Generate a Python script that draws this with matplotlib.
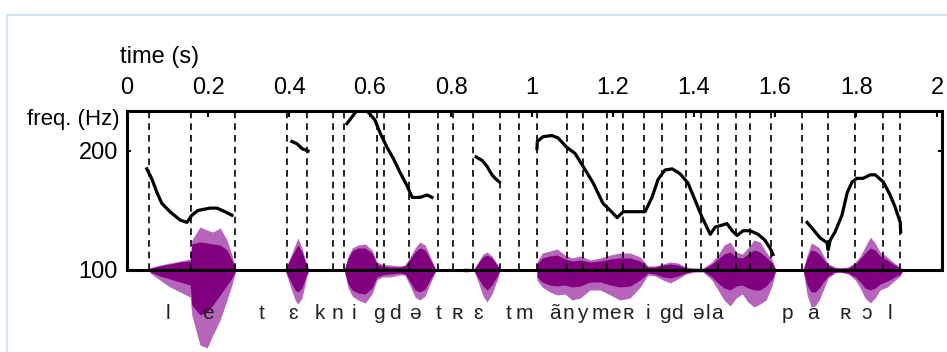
import matplotlib
matplotlib.use('Agg')
from matplotlib import pyplot as plt
from matplotlib.patches import Rectangle

plt.rcParams['font.family'] = ['Liberation Sans', 'DejaVu Sans']

# segment boundaries (s)
boundaries = [0.054, 0.158, 0.267, 0.395, 0.444, 0.509, 0.536, 0.617, 0.635, 0.696,
              0.768, 0.805, 0.854, 0.921, 0.968, 1.012, 1.086, 1.126, 1.185, 1.225,
              1.277, 1.321, 1.380, 1.417, 1.459, 1.504, 1.538, 1.590, 1.667, 1.731,
              1.798, 1.867, 1.909]

# phonetic labels and their times (s)
phones = ['l', 'e', 't', 'ɛ', 'k', 'n', 'i', 'g', 'd', 'ə', 't', 'ʀ', 'ɛ', 't', 'm',
          'ã', 'n', 'y', 'm', 'e', 'ʀ', 'i', 'g', 'd', 'ə', 'l', 'a', 'p', 'a', 'ʀ', 'ɔ', 'l']
phone_t = [0.101, 0.200, 0.333, 0.410, 0.477, 0.519, 0.560, 0.622, 0.662, 0.711, 0.768,
           0.815, 0.867, 0.943, 0.980, 1.057, 1.089, 1.123, 1.168, 1.205, 1.237, 1.286,
           1.328, 1.358, 1.410, 1.435, 1.457, 1.630, 1.694, 1.773, 1.827, 1.884]

# pitch contour (time s, f0 Hz), one list per voiced stretch
pitch_t = [
    [0.049, 0.062, 0.074, 0.086, 0.106, 0.131, 0.148, 0.160, 0.175, 0.205, 0.222, 0.242, 0.259],
    [0.407, 0.420, 0.432, 0.447],
    [0.543, 0.563, 0.573, 0.585, 0.600, 0.612, 0.625, 0.642, 0.657, 0.674, 0.691, 0.704,
     0.723, 0.741, 0.753],
    [0.862, 0.877, 0.889, 0.901, 0.909, 0.919],
    [1.012, 1.013, 1.027, 1.049, 1.064, 1.086, 1.106, 1.126, 1.151, 1.175, 1.193, 1.210,
     1.225, 1.279, 1.296, 1.311, 1.328, 1.346, 1.365, 1.385, 1.402, 1.420, 1.440, 1.452,
     1.472, 1.481, 1.494, 1.506, 1.521, 1.538, 1.558, 1.575, 1.588, 1.595],
    [1.679, 1.694, 1.711, 1.728, 1.731, 1.736, 1.748, 1.765, 1.778, 1.790, 1.802, 1.817,
     1.835, 1.847, 1.867, 1.884, 1.896, 1.909, 1.910],
]
pitch_f = [
    [185, 176, 165, 156, 149, 142, 140, 146, 150, 152, 152, 149, 146],
    [208, 206, 202, 200],
    [223, 232, 236, 236, 231, 226, 215, 203, 194, 182, 171, 161, 161, 163, 161],
    [195, 192, 187, 180, 177, 174],
    [202, 208, 212, 213, 211, 203, 198, 187, 173, 156, 150, 144, 149, 149, 161, 176, 184,
     185, 181, 173, 159, 144, 130, 136, 138, 139, 133, 129, 133, 133, 130, 125, 118, 113],
    [140, 134, 127, 123, 117, 125, 132, 146, 165, 174, 177, 177, 180, 180, 174, 163, 153,
     140, 132],
]

# waveform envelope per burst: times, outer/core amplitude above and below zero
wave_t = [
    [0.057, 0.081, 0.106, 0.131, 0.156, 0.160, 0.180, 0.198, 0.212, 0.230, 0.247, 0.259, 0.269],
    [0.390, 0.402, 0.415, 0.422, 0.432, 0.442, 0.449],
    [0.538, 0.546, 0.556, 0.570, 0.588, 0.605, 0.617, 0.630, 0.649, 0.674, 0.686, 0.699,
     0.711, 0.723, 0.736, 0.748, 0.763],
    [0.817, 0.837, 0.857, 0.867, 0.879, 0.889, 0.901, 0.914, 0.921],
    [1.012, 1.025, 1.044, 1.062, 1.081, 1.099, 1.119, 1.143, 1.168, 1.193, 1.217, 1.242,
     1.267, 1.286, 1.304, 1.323, 1.341, 1.360, 1.380, 1.402, 1.422, 1.444, 1.459, 1.474,
     1.489, 1.504, 1.519, 1.533, 1.548, 1.563, 1.578, 1.593, 1.602],
    [1.669, 1.679, 1.689, 1.699, 1.709, 1.719, 1.731, 1.748, 1.760, 1.780, 1.798, 1.810,
     1.822, 1.835, 1.847, 1.859, 1.877, 1.891, 1.909, 1.916],
]
wave_top = [
    [2, 5, 7, 9, 11, 30, 43, 40, 38, 42, 30, 15, 0],
    [0, 12, 25, 32, 22, 8, 0],
    [3, 14, 22, 25, 26, 20, 8, 6, 5, 4, 5, 13, 22, 28, 25, 14, 0],
    [1, 2, 1, 8, 16, 18, 14, 6, 0],
    [8, 17, 19, 21, 15, 12, 14, 10, 12, 15, 17, 17, 13, 4, 4, 6, 8, 7, 3, 2, 2,
     8, 15, 25, 28, 18, 16, 22, 30, 28, 18, 10, 0],
    [0, 15, 27, 25, 22, 15, 6, 3, 2, 3, 8, 14, 23, 33, 27, 18, 13, 8, 3, 0],
]
core_top = [
    [2, 4, 6, 8, 9, 26, 28, 27, 26, 25, 20, 10, 0],
    [0, 10, 20, 25, 18, 6, 0],
    [2, 12, 19, 22, 22, 17, 6, 4, 3, 3, 4, 11, 18, 22, 20, 11, 0],
    [1, 1, 1, 7, 13, 15, 12, 5, 0],
    [6, 12, 14, 15, 11, 9, 10, 8, 9, 11, 12, 12, 9, 3, 3, 5, 6, 5, 2, 1, 1,
     6, 11, 16, 18, 13, 12, 16, 20, 18, 13, 7, 0],
    [0, 12, 20, 19, 16, 11, 5, 2, 2, 2, 6, 11, 17, 22, 20, 14, 10, 6, 2, 0],
]
wave_bot = [
    [3, 10, 17, 22, 27, 45, 75, 78, 65, 50, 30, 15, 0],
    [0, 15, 30, 34, 28, 10, 0],
    [4, 18, 26, 30, 33, 24, 10, 7, 7, 5, 5, 16, 27, 30, 26, 14, 0],
    [1, 2, 1, 12, 26, 32, 24, 10, 0],
    [10, 17, 22, 25, 24, 30, 28, 20, 20, 25, 30, 28, 17, 5, 6, 10, 13, 9, 4, 2, 2,
     10, 20, 30, 36, 28, 24, 32, 37, 34, 30, 15, 0],
    [0, 25, 37, 36, 30, 20, 8, 3, 2, 4, 10, 18, 28, 33, 28, 20, 17, 12, 6, 0],
]
core_bot = [
    [2, 6, 9, 12, 15, 35, 45, 42, 35, 25, 15, 8, 0],
    [0, 10, 20, 22, 18, 6, 0],
    [3, 14, 20, 23, 24, 18, 7, 5, 4, 3, 4, 12, 20, 22, 19, 10, 0],
    [1, 1, 1, 8, 16, 20, 15, 6, 0],
    [7, 12, 15, 16, 15, 17, 16, 12, 12, 15, 17, 16, 10, 3, 4, 7, 8, 6, 3, 1, 1,
     7, 13, 18, 20, 16, 15, 18, 20, 20, 16, 9, 0],
    [0, 15, 22, 22, 18, 12, 6, 2, 2, 3, 7, 12, 18, 20, 18, 14, 11, 8, 4, 0],
]

time_ticks = [0, 0.2, 0.4, 0.6, 0.8, 1, 1.2, 1.4, 1.6, 1.8, 2]
time_labels = ['0', '0.2', '0.4', '0.6', '0.8', '1', '1.2', '1.4', '1.6', '1.8', '2']

W, H = 947, 352
fig = plt.figure(figsize=(W / 100, H / 100), dpi=100)

# light blue page frame
fig.patches.append(Rectangle((7 / W, -0.1), 1.2, 1 - 15 / H + 0.1, transform=fig.transFigure,
                             fill=False, ec='#d3e4f4', lw=1.6, zorder=0))

x0, x1 = 127 / W, 942 / W
ax = fig.add_axes([x0, 1 - 270 / H, x1 - x0, 159 / H])
axw = fig.add_axes([x0, 1 - 350 / H, x1 - x0, 140 / H])
axw.set_zorder(0)
ax.set_zorder(1)
ax.patch.set_visible(False)

# waveform
for t, ot, ct, ob, cb in zip(wave_t, wave_top, core_top, wave_bot, core_bot):
    axw.fill_between(t, [-v for v in ob], ot, color='#b566ba', lw=0)
    axw.fill_between(t, [-v for v in cb], ct, color='#800080', lw=0)
axw.set_xlim(0, 2.012)
axw.set_ylim(-80, 60)
axw.axis('off')

# boundaries
ax.vlines(boundaries, 100, 240, colors='black', lw=1.2, linestyles=(0, (4, 3)))

# pitch
for t, f in zip(pitch_t, pitch_f):
    ax.plot(t, f, color='black', lw=2.3, solid_joinstyle='round')

ax.set_xlim(0, 2.012)
ax.set_ylim(100, 233.6)
for s in ax.spines.values():
    s.set_linewidth(2.2)

ax.xaxis.tick_top()
ax.set_xticks(time_ticks)
ax.set_xticklabels(time_labels)
ax.tick_params(axis='x', direction='in', length=4.5, width=1.5, pad=8.5,
               labelsize=17, colors='black')
ax.set_yticks([100, 200])
ax.set_yticklabels(['100', '200'])
ax.tick_params(axis='y', direction='in', length=3, width=1.5, pad=6.5, labelsize=17,
               left=True, right=True)

for p, t in zip(phones, phone_t):
    ax.text(t, (270 - 319) / 159, p, transform=ax.get_xaxis_transform(), ha='center',
            va='baseline', fontsize=15, color='#222222', clip_on=False)

fig.text(120 / W, 1 - 57 / H, 'time (s)', fontsize=17, ha='left', va='center')
fig.text(120 / W, 1 - 119 / H, 'freq. (Hz)', fontsize=16, ha='right', va='center')

fig.savefig('out.png', dpi=100)
